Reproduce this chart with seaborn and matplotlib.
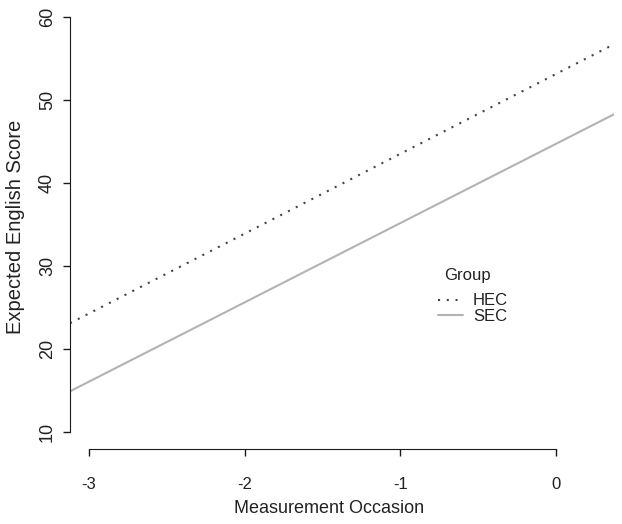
"""Expected English score by measurement occasion, HEC vs SEC groups."""

import matplotlib

matplotlib.use("Agg")
import matplotlib.pyplot as plt
import seaborn as sns

# expected scores at occasions -3 and 0
occasion = [-3, 0]
hec_score = [24.3, 53.1]
sec_score = [16.1, 44.7]
groups = ["HEC", "SEC"]

x_ticks = [-3, -2, -1, 0]
y_ticks = [10, 20, 30, 40, 50, 60]

HEC_COLOR = "#454545"
SEC_COLOR = "#b3b3b3"
AXIS_COLOR = "#1a1a1a"
TEXT_COLOR = "#222222"

sns.set_style("ticks")
plt.rcParams["font.family"] = ["Liberation Sans", "DejaVu Sans"]
plt.rcParams.update(
    {
        "axes.edgecolor": AXIS_COLOR,
        "xtick.color": AXIS_COLOR,
        "ytick.color": AXIS_COLOR,
        "xtick.labelcolor": TEXT_COLOR,
        "ytick.labelcolor": TEXT_COLOR,
        "text.color": TEXT_COLOR,
        "axes.labelcolor": TEXT_COLOR,
    }
)

fig = plt.figure(figsize=(6.22, 5.24), dpi=100)
ax = fig.add_axes([70 / 622, 75 / 524, 544 / 622, 449 / 524])

ax.axline(
    (occasion[0], hec_score[0]),
    (occasion[1], hec_score[1]),
    color=HEC_COLOR,
    linewidth=1.5,
    linestyle=(0, (1, 3.2)),
    label=groups[0],
)
ax.axline(
    (occasion[0], sec_score[0]),
    (occasion[1], sec_score[1]),
    color=SEC_COLOR,
    linewidth=1.5,
    label=groups[1],
)

ax.set_xlim(-3.122, 0.373)
ax.set_ylim(8.0, 62.0)
ax.set_xticks(x_ticks)
ax.set_yticks(y_ticks)
ax.set_xticklabels([str(t) for t in x_ticks])
ax.tick_params(axis="both", direction="out", length=5, width=1)
ax.tick_params(axis="x", pad=15.5, labelsize=12)
ax.tick_params(axis="y", pad=5, labelsize=13)
for label in ax.get_yticklabels():
    label.set_rotation(90)
    label.set_va("center")

ax.set_xlabel("Measurement Occasion", fontsize=13)
ax.xaxis.set_label_coords(0.477, -0.1336)
ax.xaxis.label.set_va("center")
ax.set_ylabel("Expected English Score", fontsize=14.5)
ax.yaxis.set_label_coords(-0.0993, 0.4955)
ax.yaxis.label.set_va("center")

sns.despine(ax=ax, trim=True)

ax.text(0.7298, 0.3764, "Group", transform=ax.transAxes,
        ha="center", va="baseline", fontsize=12)
ax.legend(
    loc="center",
    bbox_to_anchor=(0.741, 0.312),
    frameon=False,
    fontsize=12,
    handlelength=1.5,
    handletextpad=0.6,
    labelspacing=0.05,
    borderpad=0,
)

fig.savefig("out.png", dpi=100)
